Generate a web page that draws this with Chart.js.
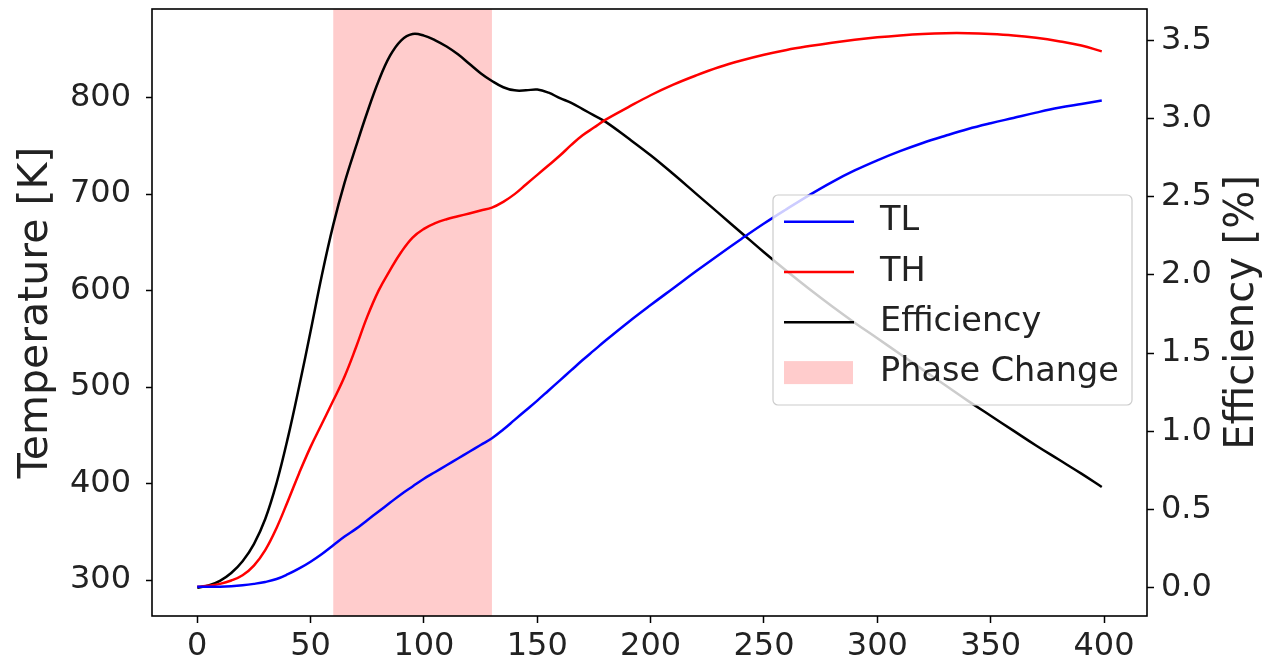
<!DOCTYPE html>
<html>
<head>
<meta charset="utf-8">
<script src="https://cdn.jsdelivr.net/npm/chart.js@4.4.1/dist/chart.umd.min.js"></script>
<style>
  html, body { margin: 0; padding: 0; background: #fff; }
</style>
</head>
<body>
<canvas id="resultChart" width="1266" height="665"></canvas>
<script>
// time axis samples (denser where the curves bend quickly)
const timeSteps = [0, 5, 10, 15, 20, 25, 30, 35, 40, 45, 50, 55, 60, 65, 70, 75, 80, 85, 90, 95,
    100, 105, 110, 115, 120, 125, 130, 135, 140, 145, 150, 155, 160, 165, 170, 175, 180,
    190, 200, 210, 220, 230, 240, 250, 260, 270, 280, 290, 300, 310, 320, 330, 340, 350,
    360, 370, 380, 390, 399];

// temperatures [K]
const tempLow = [293, 293, 293, 293.5, 294.5, 296, 298, 301, 306, 312, 319, 327, 336, 345, 353, 362, 371, 380, 389, 397,
    405, 412, 419, 426, 433, 440, 447, 456, 466, 476, 486, 496.5, 507, 517.5, 528, 538, 548,
    567, 585, 602.5, 620, 637, 653.5, 669.5, 684.5, 699, 712.5, 724.5, 735, 744.5, 753, 760.5, 767.5, 773.5,
    779, 784.5, 789.5, 793.5, 797];
const tempHigh = [293, 294, 296, 299.5, 305, 315, 331, 354, 382, 411, 438, 462, 486, 511, 541, 573, 600, 621, 640, 655,
    664, 670, 674, 677, 680, 683, 686, 692, 700, 710, 720, 730, 740, 751, 761, 769, 777,
    790, 802.5, 813.5, 823, 831.5, 838.5, 844.5, 849.5, 853.5, 857, 860, 862.5, 864.5, 866, 866.8, 866.8, 866,
    864.5, 862, 858.5, 854, 848];

// efficiency [%]
const efficiency = [0.00, 0.015, 0.045, 0.095, 0.17, 0.28, 0.44, 0.67, 0.96, 1.29, 1.64, 2.00, 2.32, 2.59, 2.82, 3.04, 3.24, 3.40, 3.50, 3.54,
    3.53, 3.50, 3.46, 3.41, 3.35, 3.29, 3.24, 3.20, 3.18, 3.18, 3.185, 3.165, 3.13, 3.10, 3.06, 3.02, 2.98,
    2.875, 2.765, 2.645, 2.52, 2.395, 2.27, 2.145, 2.025, 1.91, 1.80, 1.695, 1.595, 1.495, 1.395, 1.295, 1.195, 1.10,
    1.005, 0.91, 0.82, 0.73, 0.645];

// shaded phase change interval on the time axis
const phaseChange = [60, 130];

const FONT = 'DejaVu Sans';
const INK = '#222';

function pairs(ys) {
    return timeSteps.map((t, i) => ({ x: t, y: ys[i] }));
}

const phaseBand = {
    id: 'phaseBand',
    beforeDatasetsDraw(chart) {
        const { ctx, chartArea: a, scales: { x } } = chart;
        const x0 = x.getPixelForValue(phaseChange[0]);
        const x1 = x.getPixelForValue(phaseChange[1]);
        ctx.save();
        ctx.fillStyle = 'rgba(255, 0, 0, 0.2)';
        ctx.fillRect(x0, a.top, x1 - x0, a.bottom - a.top);
        ctx.restore();
    }
};

const frame = {
    id: 'frame',
    afterDatasetsDraw(chart) {
        const { ctx, chartArea: a } = chart;
        ctx.save();
        ctx.strokeStyle = '#000';
        ctx.lineWidth = 1.6;
        ctx.strokeRect(a.left, a.top, a.right - a.left, a.bottom - a.top);
        ctx.restore();
    }
};

// legend sits inside the plot, like matplotlib's loc='center right'
const boxLegend = {
    id: 'boxLegend',
    afterDraw(chart) {
        const ctx = chart.ctx;
        const items = chart.data.datasets.map(ds => ({ label: ds.label, color: ds.borderColor, patch: false }));
        items.push({ label: 'Phase Change', color: 'rgba(255, 0, 0, 0.2)', patch: true });

        ctx.save();
        ctx.beginPath();
        ctx.roundRect(773, 195, 359, 210, 5);
        ctx.fillStyle = 'rgba(255, 255, 255, 0.8)';
        ctx.fill();
        ctx.strokeStyle = '#cccccc';
        ctx.lineWidth = 1.2;
        ctx.stroke();

        ctx.font = '33.5px "' + FONT + '"';
        ctx.textBaseline = 'middle';
        items.forEach((it, i) => {
            const y = 221.7 + i * 50.3;
            if (it.patch) {
                ctx.fillStyle = it.color;
                ctx.fillRect(784, y - 11.5, 69, 23);
            } else {
                ctx.strokeStyle = it.color;
                ctx.lineWidth = 2.5;
                ctx.beginPath();
                ctx.moveTo(784, y);
                ctx.lineTo(854, y);
                ctx.stroke();
            }
            ctx.fillStyle = INK;
            ctx.fillText(it.label, 880, y);
        });
        ctx.restore();
    }
};

// right axis title reads bottom-to-top as in matplotlib
const rightTitle = {
    id: 'rightTitle',
    afterDraw(chart) {
        const { ctx, chartArea: a } = chart;
        ctx.save();
        ctx.translate(1243, (a.top + a.bottom) / 2);
        ctx.rotate(-Math.PI / 2);
        ctx.font = '40px "' + FONT + '"';
        ctx.fillStyle = INK;
        ctx.textAlign = 'center';
        ctx.textBaseline = 'middle';
        ctx.fillText('Efficiency [%]', 0, 0);
        ctx.restore();
    }
};

const tickFont = { family: FONT, size: 32 };

function fixWidth(w) {
    return s => { s.width = w; s.paddingTop = 0; s.paddingBottom = 0; };
}

function curve(label, values, axis, color) {
    return {
        label: label,
        data: pairs(values),
        yAxisID: axis,
        borderColor: color,
        borderWidth: 2.5,
        pointRadius: 0,
        tension: 0.4,
        fill: false
    };
}

const ctx = document.getElementById('resultChart').getContext('2d');
const chart = new Chart(ctx, {
    type: 'line',
    data: {
        datasets: [
            curve('TL', tempLow, 'y', '#0000ff'),
            curve('TH', tempHigh, 'y', '#ff0000'),
            curve('Efficiency', efficiency, 'y1', '#000000')
        ]
    },
    options: {
        responsive: false,
        animation: false,
        devicePixelRatio: 1,
        layout: { padding: { top: 9, left: 0, right: 0, bottom: 0 } },
        plugins: {
            legend: { display: false },
            tooltip: { enabled: false }
        },
        scales: {
            x: {
                type: 'linear',
                min: -19.95,
                max: 418.95,
                afterFit: s => { s.height = 49; s.paddingLeft = 0; s.paddingRight = 0; },
                border: { display: false },
                grid: { drawOnChartArea: false, drawTicks: true, tickLength: 7, tickColor: '#000', tickWidth: 1.5 },
                ticks: { stepSize: 50, includeBounds: false, font: tickFont, color: INK, padding: 4, maxRotation: 0 }
            },
            y: {
                type: 'linear',
                position: 'left',
                min: 262.7,
                max: 891.9,
                afterFit: fixWidth(152),
                border: { display: false },
                grid: { drawOnChartArea: false, drawTicks: true, tickLength: 6, tickColor: '#000', tickWidth: 1.5 },
                ticks: { stepSize: 100, includeBounds: false, font: tickFont, color: INK, padding: 15 },
                title: {
                    display: true,
                    text: 'Temperature [K]',
                    font: { family: FONT, size: 41 },
                    color: INK,
                    padding: { top: 12, bottom: 0 }
                }
            },
            y1: {
                type: 'linear',
                position: 'right',
                min: -0.18,
                max: 3.70,
                afterFit: fixWidth(119),
                border: { display: false },
                grid: { drawOnChartArea: false, drawTicks: true, tickLength: 7, tickColor: '#000', tickWidth: 1.5 },
                ticks: {
                    stepSize: 0.5,
                    includeBounds: false,
                    font: tickFont,
                    color: INK,
                    padding: 7,
                    callback: v => v.toFixed(1)
                }
            }
        }
    },
    plugins: [phaseBand, frame, boxLegend, rightTitle]
});
</script>
</body>
</html>
